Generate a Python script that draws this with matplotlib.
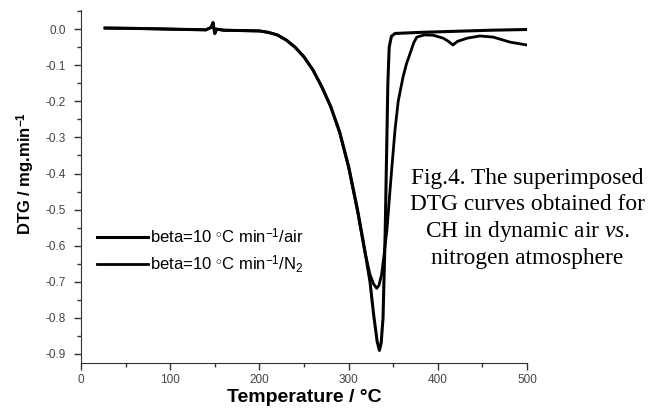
import matplotlib
matplotlib.use("Agg")
import matplotlib.pyplot as plt
from matplotlib.ticker import MultipleLocator, FormatStrFormatter

plt.rcParams['font.family'] = ['Liberation Sans', 'DejaVu Sans']
plt.rcParams['axes.unicode_minus'] = False
plt.rcParams['mathtext.fontset'] = 'custom'
plt.rcParams['mathtext.rm'] = 'Liberation Sans'
plt.rcParams['mathtext.it'] = 'Liberation Serif:italic'
plt.rcParams['mathtext.bf'] = 'Liberation Sans:bold'

# curve with the deep, narrow peak
temp_a = [27, 60, 100, 140, 146, 148, 150, 152, 160, 200, 210, 220, 230, 240, 250,
          260, 270, 280, 290, 300, 310, 318, 324, 328, 332, 334.5, 336.5, 338.6,
          341, 343, 344, 345.5, 348, 352, 380, 420, 460, 500]
dtg_a = [0.003, 0.002, 0.0, -0.002, 0.005, 0.018, -0.012, 0.0, -0.003, -0.005, -0.009,
         -0.016, -0.03, -0.05, -0.077, -0.113, -0.16, -0.215, -0.285, -0.38, -0.5,
         -0.61, -0.7, -0.79, -0.865, -0.89, -0.87, -0.8, -0.565, -0.29, -0.15, -0.05,
         -0.02, -0.012, -0.009, -0.006, -0.003, -0.001]

# curve with the shallower peak and the second step near 420 C
temp_b = [27, 60, 100, 140, 146, 148, 150, 152, 160, 200, 210, 220, 230, 240, 250,
          260, 270, 280, 290, 300, 310, 318, 324, 328, 331.5, 334, 337, 340, 343,
          346, 348.6, 352, 355.6, 361, 365, 369, 373, 376.5, 385, 395, 406, 412, 417,
          422, 433, 447, 462, 481, 500]
dtg_b = [0.003, 0.002, 0.0, -0.002, 0.005, 0.018, -0.012, 0.0, -0.003, -0.005, -0.009,
         -0.016, -0.03, -0.05, -0.077, -0.113, -0.16, -0.215, -0.287, -0.383, -0.505,
         -0.615, -0.68, -0.706, -0.718, -0.71, -0.68, -0.62, -0.555, -0.46, -0.38, -0.28,
         -0.2, -0.133, -0.095, -0.067, -0.038, -0.022, -0.016, -0.017, -0.025, -0.034,
         -0.044, -0.034, -0.025, -0.019, -0.022, -0.036, -0.044]

labels = [r"beta=10 $^{\circ}$C min$^{-1}$/air", r"beta=10 $^{\circ}$C min$^{-1}$/N$_{2}$"]
caption = ["Fig.4. The superimposed", "DTG curves obtained for",
           r"CH in dynamic air $\mathit{vs.}$", "nitrogen atmosphere"]

fig = plt.figure(figsize=(6.5, 4.11), dpi=100)
ax = fig.add_axes([81/650, 1-363/411, 446/650, 353/411])

ax.plot(temp_a, dtg_a, color='black', lw=2.2, label=labels[0])
ax.plot(temp_b, dtg_b, color='black', lw=2.0, label=labels[1])

ax.set_xlim(0, 500)
ax.set_ylim(-0.925, 0.053)
ax.spines['top'].set_visible(False)
ax.spines['right'].set_visible(False)
ax.spines['left'].set_color('#333333')
ax.spines['bottom'].set_color('#333333')
ax.xaxis.set_major_locator(MultipleLocator(100))
ax.xaxis.set_minor_locator(MultipleLocator(50))
ax.yaxis.set_major_locator(MultipleLocator(0.1))
ax.yaxis.set_minor_locator(MultipleLocator(0.05))
ax.yaxis.set_major_formatter(FormatStrFormatter('%.1f'))
ax.tick_params(which='major', direction='out', length=5, width=1, colors='#333333',
               labelsize=8.5, labelcolor='#444444')
ax.tick_params(which='minor', direction='out', length=3, width=1, colors='#333333')
ax.tick_params(axis='y', pad=6)
ax.tick_params(axis='x', pad=3)

ax.set_xlabel("Temperature / °C", fontsize=14, fontweight='bold', labelpad=2)
ax.set_ylabel(r"DTG / mg.min$^{\mathbf{-1}}$", fontsize=12, fontweight='bold')
ax.yaxis.set_label_coords(-0.099, 0.538)

ax.legend(loc='upper left', bbox_to_anchor=(0.035, 0.386), frameon=False, fontsize=12,
          handlelength=3.1, handletextpad=0.1, labelspacing=0.45, borderpad=0,
          borderaxespad=0)

for i, line in enumerate(caption):
    fig.text(527/650, 1 - (178 + 26.7*i)/411, line, ha='center', va='center',
             fontsize=16.8, family='Liberation Serif')

fig.savefig("out.png", dpi=100)
